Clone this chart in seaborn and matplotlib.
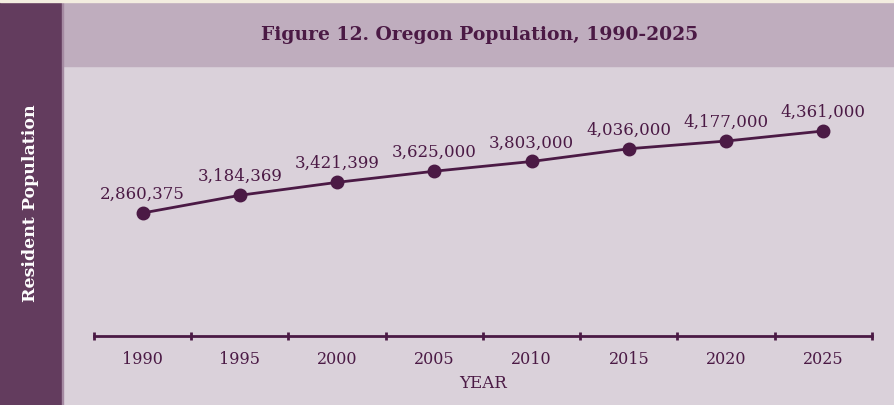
import matplotlib.pyplot as plt
import matplotlib.patches as mpatches
import seaborn as sns
import pandas as pd

years = ["1990", "1995", "2000", "2005", "2010", "2015", "2020", "2025"]
population = [2860375, 3184369, 3421399, 3625000, 3803000, 4036000, 4177000, 4361000]
value_labels = ["2,860,375", "3,184,369", "3,421,399", "3,625,000",
                "3,803,000", "4,036,000", "4,177,000", "4,361,000"]

ink = "#4b1a45"
plot_bg = "#dad1da"
header_bg = "#bfadbe"
side_bg = "#633c5e"
strip_bg = "#f3ede0"

sns.set_theme(style="white")
plt.rcParams['font.family'] = ['DejaVu Serif']

df = pd.DataFrame({"year": years, "population": population})

fig = plt.figure(figsize=(8.95, 4.06), dpi=100, facecolor=plot_bg)

# background bands
fig.patches.append(mpatches.Rectangle((62 / 895, 339 / 406), 833 / 895, 64 / 406,
                                      transform=fig.transFigure, color=header_bg, zorder=0))
fig.patches.append(mpatches.Rectangle((0, 0), 62 / 895, 403 / 406,
                                      transform=fig.transFigure, color=side_bg, zorder=0))
fig.patches.append(mpatches.Rectangle((62 / 895, 0), 1.5 / 895, 403 / 406,
                                      transform=fig.transFigure, color="#a58aa2", zorder=0))
fig.patches.append(mpatches.Rectangle((0, 403 / 406), 1, 3 / 406,
                                      transform=fig.transFigure, color=strip_bg, zorder=0))

ax = fig.add_axes([94 / 895, 69 / 406, 778 / 895, 270 / 406])
ax.set_facecolor("none")

sns.pointplot(data=df, x="year", y="population", ax=ax, color=ink,
              markersize=8.5, linewidth=2)

for i, (v, lab) in enumerate(zip(population, value_labels)):
    ax.annotate(lab, (i, v), xytext=(0, 8), textcoords="offset points",
                ha="center", va="bottom", fontsize=12, color=ink)

ax.set_xlim(-0.5, len(years) - 0.5)
ax.set_ylim(610000, 5550000)
ax.set_yticks([])
ax.set_xticks(range(len(years)))
ax.set_xticklabels(years, fontsize=11.5, color=ink)
ax.set_xticks([i - 0.5 for i in range(len(years) + 1)], minor=True)
ax.tick_params(axis="x", which="both", bottom=True)
ax.tick_params(axis="x", which="major", length=0, pad=10)
ax.tick_params(axis="x", which="minor", length=6, width=2, color=ink, direction="inout")
ax.set_xlabel("YEAR", fontsize=12, color=ink, labelpad=5)
ax.set_ylabel("")
for s in ["top", "right", "left"]:
    ax.spines[s].set_visible(False)
ax.spines["bottom"].set_color(ink)
ax.spines["bottom"].set_linewidth(2)

fig.text(480 / 895, 371 / 406, "Figure 12. Oregon Population, 1990-2025",
         ha="center", va="center", fontsize=13.5, fontweight="bold", color=ink)
fig.text(31 / 895, 203 / 406, "Resident Population", rotation=90,
         ha="center", va="center", fontsize=12.5, fontweight="bold", color="white")

fig.savefig("out.png", dpi=100, facecolor=plot_bg)
